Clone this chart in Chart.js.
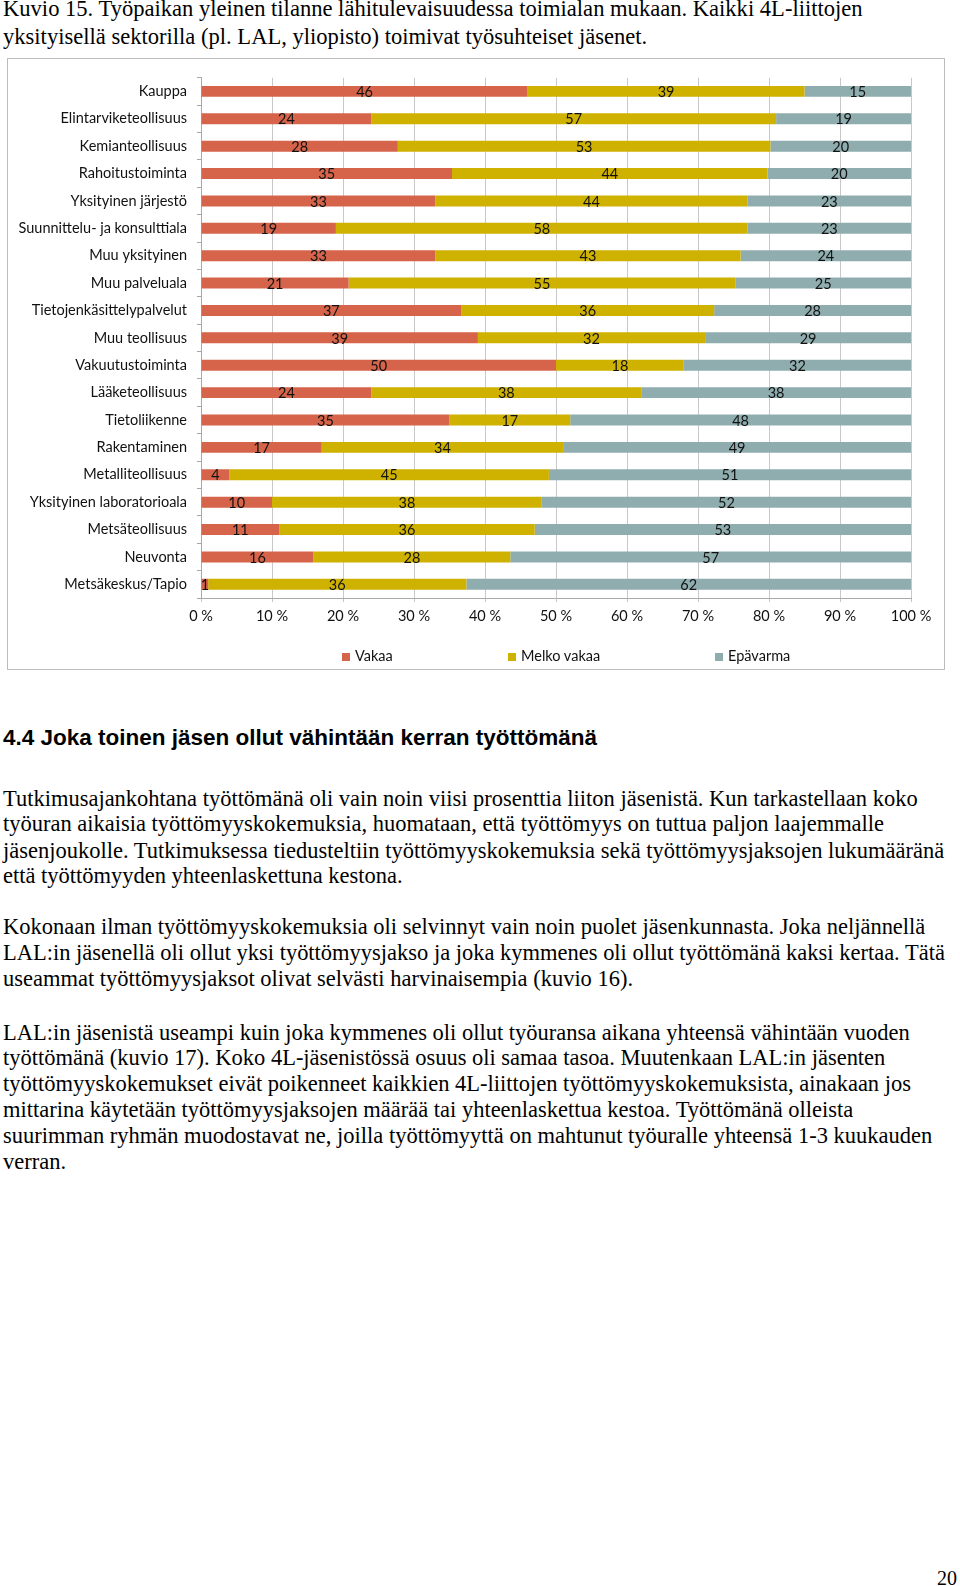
<!DOCTYPE html>
<html>
<head>
<meta charset="utf-8">
<script src="https://cdn.jsdelivr.net/npm/chart.js@4/dist/chart.umd.min.js"></script>
<style>
  html, body { margin: 0; padding: 0; background: #fff; }
  body { width: 960px; height: 1586px; position: relative; overflow: hidden; }
  .ln { position: absolute; left: 3px; white-space: nowrap; font-family: "Liberation Serif", "Times New Roman", serif; color: #000; line-height: 24px; }
  .hd { position: absolute; left: 3px; white-space: nowrap; font-family: "Liberation Sans", Arial, sans-serif; font-weight: bold; color: #000; line-height: 24px; }
  #box { position: absolute; left: 7px; top: 58px; width: 938px; height: 612px; border: 1px solid #bdbdbd; box-sizing: border-box; background: #fff; }
  #wrap { position: absolute; left: 0; top: 0; width: 936px; height: 610px; }
  #legend { position: absolute; top: 647px; left: 0; width: 960px; height: 18px; font-family: Lato, sans-serif; font-size: 14.5px; color: #111; }
  .lg { position: absolute; top: 0; white-space: nowrap; line-height: 17px; }
  .lg i { display: inline-block; width: 8px; height: 8px; margin-right: 5px; vertical-align: 0px; }
  #pnum { position: absolute; left: 937px; top: 1566px; font-family: "Liberation Serif", serif; font-size: 20px; line-height: 24px; }
</style>
</head>
<body>
<div class="ln t" style="top:-3px">Kuvio 15. Työpaikan yleinen tilanne lähitulevaisuudessa toimialan mukaan. Kaikki 4L-liittojen</div>
<div class="ln t" style="top:25px">yksityisellä sektorilla (pl. LAL, yliopisto) toimivat työsuhteiset jäsenet.</div>

<div id="box"><div id="wrap"><canvas id="c"></canvas></div></div>
<div id="legend"></div>

<div class="hd" style="top:726px">4.4 Joka toinen jäsen ollut vähintään kerran työttömänä</div>

<div class="ln b" style="top:787px">Tutkimusajankohtana työttömänä oli vain noin viisi prosenttia liiton jäsenistä. Kun tarkastellaan koko</div>
<div class="ln b" style="top:812px">työuran aikaisia työttömyyskokemuksia, huomataan, että työttömyys on tuttua paljon laajemmalle</div>
<div class="ln b" style="top:839px">jäsenjoukolle. Tutkimuksessa tiedusteltiin työttömyyskokemuksia sekä työttömyysjaksojen lukumääränä</div>
<div class="ln b" style="top:864px">että työttömyyden yhteenlaskettuna kestona.</div>

<div class="ln b" style="top:915px">Kokonaan ilman työttömyyskokemuksia oli selvinnyt vain noin puolet jäsenkunnasta. Joka neljännellä</div>
<div class="ln b" style="top:941px">LAL:in jäsenellä oli ollut yksi työttömyysjakso ja joka kymmenes oli ollut työttömänä kaksi kertaa. Tätä</div>
<div class="ln b" style="top:967px">useammat työttömyysjaksot olivat selvästi harvinaisempia (kuvio 16).</div>

<div class="ln b" style="top:1021px">LAL:in jäsenistä useampi kuin joka kymmenes oli ollut työuransa aikana yhteensä vähintään vuoden</div>
<div class="ln b" style="top:1046px">työttömänä (kuvio 17). Koko 4L-jäsenistössä osuus oli samaa tasoa. Muutenkaan LAL:in jäsenten</div>
<div class="ln b" style="top:1072px">työttömyyskokemukset eivät poikenneet kaikkien 4L-liittojen työttömyyskokemuksista, ainakaan jos</div>
<div class="ln b" style="top:1098px">mittarina käytetään työttömyysjaksojen määrää tai yhteenlaskettua kestoa. Työttömänä olleista</div>
<div class="ln b" style="top:1124px">suurimman ryhmän muodostavat ne, joilla työttömyyttä on mahtunut työuralle yhteensä 1-3 kuukauden</div>
<div class="ln b" style="top:1150px">verran.</div>

<div id="pnum">20</div>

<script>
// ---- data ----
const categories = [
  "Kauppa", "Elintarviketeollisuus", "Kemianteollisuus", "Rahoitustoiminta",
  "Yksityinen järjestö", "Suunnittelu- ja konsulttiala", "Muu yksityinen",
  "Muu palveluala", "Tietojenkäsittelypalvelut", "Muu teollisuus",
  "Vakuutustoiminta", "Lääketeollisuus", "Tietoliikenne", "Rakentaminen",
  "Metalliteollisuus", "Yksityinen laboratorioala", "Metsäteollisuus",
  "Neuvonta", "Metsäkeskus/Tapio"
];
const seriesNames = ["Vakaa", "Melko vakaa", "Epävarma"];
const vakaa =       [46, 24, 28, 35, 33, 19, 33, 21, 37, 39, 50, 24, 35, 17,  4, 10, 11, 16,  1];
const melkoVakaa =  [39, 57, 53, 44, 44, 58, 43, 55, 36, 32, 18, 38, 17, 34, 45, 38, 36, 28, 36];
const epavarma =    [15, 19, 20, 20, 23, 23, 24, 25, 28, 29, 32, 38, 48, 49, 51, 52, 53, 57, 62];
const xTicks = [0, 10, 20, 30, 40, 50, 60, 70, 80, 90, 100];
const colors = ["#D5644A", "#CFB200", "#8FADAE"];

// ---- text fitting ----
function fit(sel, refIdx, target) {
  const els = document.querySelectorAll(sel);
  els.forEach(e => e.style.fontSize = '100px');
  const w = els[refIdx].getBoundingClientRect().width;
  const fs = 100 * target / w;
  els.forEach(e => e.style.fontSize = fs + 'px');
}
fit('.ln.b', 0, 915);
fit('.ln.t', 0, 860);
fit('.hd', 0, 594);

// ---- chart ----
const raw = [vakaa, melkoVakaa, epavarma];
const totals = categories.map((_, i) => raw.reduce((s, a) => s + a[i], 0));
const datasets = raw.map((arr, k) => ({
  label: seriesNames[k],
  data: arr.map((v, i) => v / totals[i] * 100),
  rawValues: arr,
  backgroundColor: colors[k],
  borderWidth: 0,
  barPercentage: 0.4,
  categoryPercentage: 1.0
}));

const valueLabels = {
  id: 'valueLabels',
  afterDatasetsDraw(chart) {
    const ctx = chart.ctx;
    ctx.save();
    ctx.font = '14.5px Lato';
    ctx.fillStyle = '#111';
    ctx.textAlign = 'center';
    ctx.textBaseline = 'middle';
    chart.data.datasets.forEach((ds, di) => {
      const meta = chart.getDatasetMeta(di);
      meta.data.forEach((el, i) => {
        const p = el.getProps(['x', 'y', 'base'], true);
        ctx.fillText(String(ds.rawValues[i]), (p.x + p.base) / 2, p.y + 1);
      });
    });
    ctx.restore();
  }
};

new Chart(document.getElementById('c'), {
  type: 'bar',
  data: { labels: categories, datasets },
  options: {
    indexAxis: 'y',
    responsive: true,
    maintainAspectRatio: false,
    devicePixelRatio: 1,
    animation: false,
    layout: { padding: { top: 14, right: 33, bottom: 41, left: 0 } },
    plugins: { legend: { display: false }, tooltip: { enabled: false } },
    scales: {
      x: {
        stacked: true,
        min: 0, max: 100,
        afterBuildTicks: s => { s.ticks = xTicks.map(v => ({ value: v })); },
        afterFit: s => { s.height = 30; },
        ticks: {
          callback: v => v + ' %',
          font: { family: 'Lato', size: 14.5 },
          color: '#111',
          padding: 6,
          maxRotation: 0
        },
        grid: { color: '#c8c8c8', lineWidth: 1, tickLength: 4, drawTicks: true },
        border: { display: true, color: '#a8a8a8' }
      },
      y: {
        stacked: true,
        afterFit: s => { s.width = 193; },
        ticks: {
          autoSkip: false,
          font: { family: 'Lato', size: 14.5 },
          color: '#111',
          padding: 10
        },
        grid: { drawOnChartArea: false, drawTicks: true, tickLength: 4, color: '#a8a8a8', offset: true },
        border: { display: true, color: '#a8a8a8' }
      }
    }
  },
  plugins: [valueLabels]
});

// ---- legend ----
const legendX = [342, 508, 715];
const lg = document.getElementById('legend');
seriesNames.forEach((n, k) => {
  const d = document.createElement('div');
  d.className = 'lg';
  d.style.left = legendX[k] + 'px';
  d.innerHTML = '<i style="background:' + colors[k] + '"></i>' + n;
  lg.appendChild(d);
});
</script>
</body>
</html>
